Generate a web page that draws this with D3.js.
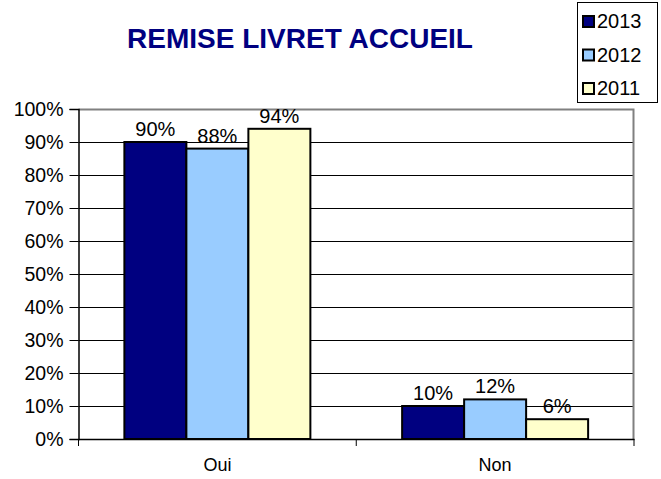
<!DOCTYPE html>
<html>
<head>
<meta charset="utf-8">
<script src="https://cdn.jsdelivr.net/npm/d3@7"></script>
<style>
  body { margin: 0; background: #fff; }
  text { font-family: "Liberation Sans", Arial, sans-serif; }
</style>
</head>
<body>
<div id="chart"></div>
<script>
'use strict';

var categories = ['Oui', 'Non'];
var years = ['2013', '2012', '2011'];
var values2013 = [0.90, 0.10];
var values2012 = [0.88, 0.12];
var values2011 = [0.94, 0.06];
var yTicks = [0, 0.1, 0.2, 0.3, 0.4, 0.5, 0.6, 0.7, 0.8, 0.9, 1.0];
var colors = ['#000080', '#99CCFF', '#FFFFCC'];

var series = [values2013, values2012, values2011];

var width = 661;
var height = 479;
var margin = { top: 109, right: 27, bottom: 40, left: 78.5 };
var innerW = width - margin.left - margin.right;
var innerH = height - margin.top - margin.bottom;

var svg = d3.select('#chart')
    .append('svg')
    .attr('width', width)
    .attr('height', height);

// title
svg.append('text')
    .attr('x', 300)
    .attr('y', 48)
    .attr('text-anchor', 'middle')
    .style('font-size', '28px')
    .style('font-weight', 'bold')
    .style('fill', '#000080')
    .text('REMISE LIVRET ACCUEIL');

var g = svg.append('g')
    .attr('transform', 'translate(' + margin.left + ',' + margin.top + ')');

var y = d3.scaleLinear().domain([0, 1]).range([innerH, 0]);
var x0 = d3.scaleBand().domain(categories).range([0, innerW]);
var x1 = d3.scaleBand().domain(years).range([0, x0.bandwidth()]).paddingOuter(0.74);

// gridlines
g.selectAll('.grid')
    .data(yTicks.filter(function(d) { return d > 0 && d < 1; }))
    .enter()
    .append('line')
    .attr('x1', 0)
    .attr('x2', innerW)
    .attr('y1', function(d) { return Math.round(y(d)) + 0.5; })
    .attr('y2', function(d) { return Math.round(y(d)) + 0.5; })
    .style('stroke', '#000')
    .style('stroke-width', 1);

// plot border top + right (gray)
g.append('path')
    .attr('d', 'M0,' + 0.5 + 'H' + (innerW - 0.5) + 'V' + innerH)
    .style('fill', 'none')
    .style('stroke', '#808080')
    .style('stroke-width', 2);

// bars
var groups = g.selectAll('.cat')
    .data(categories)
    .enter()
    .append('g')
    .attr('transform', function(d) { return 'translate(' + x0(d) + ',0)'; });

groups.selectAll('rect')
    .data(function(d, ci) {
        return years.map(function(yr, si) {
            return { year: yr, value: series[si][ci], color: colors[si] };
        });
    })
    .enter()
    .append('rect')
    .attr('x', function(d) { return x1(d.year); })
    .attr('y', function(d) { return y(d.value); })
    .attr('width', x1.bandwidth())
    .attr('height', function(d) { return innerH - y(d.value); })
    .style('fill', function(d) { return d.color; })
    .style('stroke', '#000')
    .style('stroke-width', 2);

groups.selectAll('.lbl')
    .data(function(d, ci) {
        return years.map(function(yr, si) {
            return { year: yr, value: series[si][ci] };
        });
    })
    .enter()
    .append('text')
    .attr('x', function(d) { return x1(d.year) + x1.bandwidth() / 2; })
    .attr('y', function(d) { return y(d.value) - 6; })
    .attr('text-anchor', 'middle')
    .style('font-size', '20px')
    .style('fill', '#000')
    .text(function(d) { return Math.round(d.value * 100) + '%'; });

// y axis
var yAxis = d3.axisLeft(y)
    .tickValues(yTicks)
    .tickSize(9)
    .tickPadding(6)
    .tickFormat(d3.format('.0%'));

var ya = g.append('g').call(yAxis);
ya.select('.domain').style('stroke', '#000').style('stroke-width', 1.5);
ya.selectAll('.tick line').style('stroke', '#000');
ya.selectAll('.tick text')
    .style('font-size', '19.5px')
    .style('fill', '#000')
    .style('font-family', '"Liberation Sans", Arial, sans-serif');

// x axis
var xAxis = d3.axisBottom(x0)
    .tickSize(0)
    .tickPadding(19);

var xa = g.append('g')
    .attr('transform', 'translate(0,' + innerH + ')')
    .call(xAxis);
xa.select('.domain').style('stroke', '#000').style('stroke-width', 1.5);
xa.selectAll('.tick text')
    .style('font-size', '18px')
    .style('fill', '#000')
    .style('font-family', '"Liberation Sans", Arial, sans-serif');

// category boundary ticks
g.selectAll('.xtick')
    .data([0].concat(categories.map(function(c) { return x0(c) + x0.bandwidth(); })))
    .enter()
    .append('line')
    .attr('x1', function(d) { return d; })
    .attr('x2', function(d) { return d; })
    .attr('y1', innerH)
    .attr('y2', innerH + 7)
    .style('stroke', '#000');

// legend
var legend = svg.append('g').attr('transform', 'translate(577,2)');
legend.append('rect')
    .attr('x', 0.5)
    .attr('y', 0.5)
    .attr('width', 80)
    .attr('height', 100)
    .style('fill', '#fff')
    .style('stroke', '#000')
    .style('stroke-width', 1);

var items = legend.selectAll('.item')
    .data(years)
    .enter()
    .append('g')
    .attr('transform', function(d, i) { return 'translate(6,' + (26 + i * 33.5) + ')'; });

items.append('rect')
    .attr('x', 0)
    .attr('y', -12)
    .attr('width', 11)
    .attr('height', 11)
    .style('fill', function(d, i) { return colors[i]; })
    .style('stroke', '#000')
    .style('stroke-width', 2);

items.append('text')
    .attr('x', 14)
    .attr('y', 0)
    .style('font-size', '20px')
    .text(function(d) { return d; });
</script>
</body>
</html>
